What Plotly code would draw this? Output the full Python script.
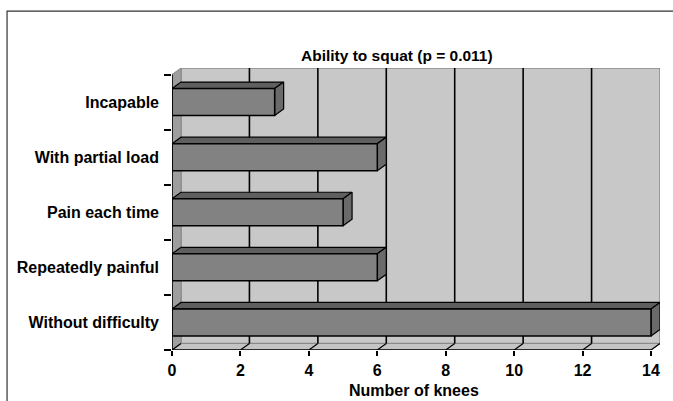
import plotly.graph_objects as go

# Data: number of knees per squatting ability (bottom to top)
categories = ["Without difficulty", "Repeatedly painful", "Pain each time",
              "With partial load", "Incapable"]
knees = [14, 6, 5, 6, 3]
x_ticks = [0, 2, 4, 6, 8, 10, 12, 14]

X_MAX = 14
# oblique depth of the pseudo-3D box, in data units
DX = 0.263
DY = 0.118
HALF = 0.245  # half bar thickness (category units)

FONT = "Liberation Sans, Arial, sans-serif"
y_lo, y_hi = -0.5, len(categories) - 0.5

fig = go.Figure()


def poly(xs, ys, fill, line_color, width=1.0):
    fig.add_trace(go.Scatter(
        x=list(xs) + [xs[0]], y=list(ys) + [ys[0]],
        mode="lines", fill="toself", fillcolor=fill,
        line=dict(color=line_color, width=width),
        hoverinfo="skip", showlegend=False))


def seg(xs, ys, color, width):
    fig.add_trace(go.Scatter(
        x=xs, y=ys, mode="lines", line=dict(color=color, width=width),
        hoverinfo="skip", showlegend=False, connectgaps=False))


# back wall
poly([DX, X_MAX + DX, X_MAX + DX, DX],
     [y_lo + DY, y_lo + DY, y_hi + DY, y_hi + DY], "#c8c8c8", "#8a8a8a", 1.5)
# left side wall
poly([0, DX, DX, 0], [y_lo, y_lo + DY, y_hi + DY, y_hi], "#9e9e9e", "#8a8a8a", 1)
# floor
poly([0, X_MAX, X_MAX + DX, DX], [y_lo, y_lo, y_lo + DY, y_lo + DY],
     "#c4c4c4", "#8a8a8a", 1)

# gridlines on the back wall and across the floor
gx, gy, fx, fy = [], [], [], []
for t in x_ticks:
    if 0 < t < X_MAX:
        gx += [t + DX, t + DX, None]
        gy += [y_lo + DY, y_hi + DY, None]
    fx += [t, t + DX, None]
    fy += [y_lo, y_lo + DY, None]
seg(gx, gy, "#000000", 1.6)
seg(fx, fy, "#000000", 1.2)

# bars: front, top and side faces
for i, v in enumerate(knees):
    lo, hi = i - HALF, i + HALF
    poly([0, v, v + DX, DX], [hi, hi, hi + DY, hi + DY], "#5f5f5f", "#000000", 1.2)
    poly([v, v + DX, v + DX, v], [lo, lo + DY, hi + DY, hi], "#6a6a6a", "#000000", 1.2)
    poly([0, v, v, 0], [lo, lo, hi, hi], "#828282", "#000000", 1.5)

# front axis lines
seg([0, 0], [y_lo, y_hi], "#000000", 1.6)
seg([0, X_MAX], [y_lo, y_lo], "#000000", 1.6)

fig.update_layout(
    width=673, height=401,
    margin=dict(l=172, r=13, t=68, b=51),
    paper_bgcolor="white", plot_bgcolor="rgba(0,0,0,0)",
    font=dict(family=FONT, size=16, color="#000000", weight="bold"),
    showlegend=False,
    xaxis=dict(range=[0, X_MAX + DX], showgrid=False, zeroline=False,
               showline=False, tickmode="array", tickvals=x_ticks,
               ticks="outside", ticklen=5, tickwidth=1.5, tickcolor="#000000",
               tickfont=dict(family=FONT, size=16, weight="bold"),
               ticklabelstandoff=1, fixedrange=True),
    yaxis=dict(range=[y_lo, y_hi + DY], showgrid=False, zeroline=False,
               showline=False, tickmode="array",
               tickvals=list(range(len(categories))), ticktext=categories,
               ticks="", ticklabelstandoff=12,
               tickfont=dict(family=FONT, size=16, weight="bold"),
               minor=dict(tickmode="array",
                          tickvals=[k - 0.5 for k in range(len(categories) + 1)],
                          ticks="outside", ticklen=7, tickwidth=1.5,
                          tickcolor="#000000", showgrid=False),
               fixedrange=True),
    annotations=[
        dict(text="Ability to squat (p = 0.011)", xref="paper", yref="paper",
             x=0.461, y=1.043, xanchor="center", yanchor="middle",
             showarrow=False, font=dict(family=FONT, size=15.5, weight="bold")),
        dict(text="Number of knees", xref="paper", yref="paper",
             x=0.496, y=-0.145, xanchor="center", yanchor="middle",
             showarrow=False, font=dict(family=FONT, size=16, weight="bold")),
    ],
    shapes=[dict(type="rect", xref="paper", yref="paper",
                 x0=-0.338, x1=1.3, y0=-0.4, y1=1.202,
                 line=dict(color="#333333", width=1.2), layer="below")],
)

fig.write_html("out.html")
